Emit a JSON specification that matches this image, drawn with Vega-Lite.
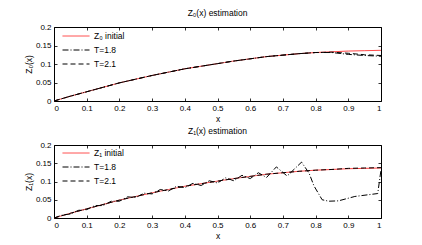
{
  "$schema": "https://vega.github.io/schema/vega-lite/v6.json",
  "padding": {"left": 23, "top": 8, "right": 5, "bottom": 5},
  "spacing": 3,
  "config": {
    "font": "Liberation Sans",
    "view": {"stroke": "black", "strokeWidth": 1},
    "axis": {
      "domain": false, "grid": false, "tickColor": "black", "tickSize": -3, "tickWidth": 0.8,
      "labelFontSize": 8, "labelColor": "black", "labelPadding": 6,
      "titleFontSize": 8.5, "titleFontWeight": "normal", "titleColor": "black", "titlePadding": 2
    },
    "axisX": {"titlePadding": 2},
    "title": {"fontSize": 8.5, "fontWeight": "normal", "color": "black", "offset": 6},
    "legend": {
      "symbolType": "M-1,0H5", "symbolSize": 81,
      "symbolStrokeWidth": 1, "labelFontSize": 8.5, "labelColor": "black", "rowPadding": 4,
      "padding": 0, "labelOffset": 22
    }
  },
  "datasets": {
    "top": [
      {"x":0,"y":0,"s":"Z₀ initial"},{"x":0.05,"y":0.013,"s":"Z₀ initial"},{"x":0.1,"y":0.025,"s":"Z₀ initial"},{"x":0.15,"y":0.037,"s":"Z₀ initial"},{"x":0.2,"y":0.049,"s":"Z₀ initial"},{"x":0.25,"y":0.059,"s":"Z₀ initial"},{"x":0.3,"y":0.069,"s":"Z₀ initial"},{"x":0.35,"y":0.078,"s":"Z₀ initial"},{"x":0.4,"y":0.087,"s":"Z₀ initial"},{"x":0.45,"y":0.094,"s":"Z₀ initial"},{"x":0.5,"y":0.101,"s":"Z₀ initial"},{"x":0.55,"y":0.108,"s":"Z₀ initial"},{"x":0.6,"y":0.114,"s":"Z₀ initial"},{"x":0.65,"y":0.12,"s":"Z₀ initial"},{"x":0.7,"y":0.124,"s":"Z₀ initial"},{"x":0.75,"y":0.128,"s":"Z₀ initial"},{"x":0.8,"y":0.131,"s":"Z₀ initial"},{"x":0.85,"y":0.133,"s":"Z₀ initial"},{"x":0.9,"y":0.135,"s":"Z₀ initial"},{"x":0.95,"y":0.136,"s":"Z₀ initial"},{"x":1,"y":0.137,"s":"Z₀ initial"},
      {"x":0,"y":0,"s":"T=1.8"},{"x":0.05,"y":0.013,"s":"T=1.8"},{"x":0.1,"y":0.025,"s":"T=1.8"},{"x":0.15,"y":0.037,"s":"T=1.8"},{"x":0.2,"y":0.049,"s":"T=1.8"},{"x":0.25,"y":0.059,"s":"T=1.8"},{"x":0.3,"y":0.069,"s":"T=1.8"},{"x":0.35,"y":0.078,"s":"T=1.8"},{"x":0.4,"y":0.087,"s":"T=1.8"},{"x":0.45,"y":0.094,"s":"T=1.8"},{"x":0.5,"y":0.101,"s":"T=1.8"},{"x":0.55,"y":0.108,"s":"T=1.8"},{"x":0.6,"y":0.114,"s":"T=1.8"},{"x":0.65,"y":0.12,"s":"T=1.8"},{"x":0.7,"y":0.124,"s":"T=1.8"},{"x":0.75,"y":0.128,"s":"T=1.8"},{"x":0.8,"y":0.131,"s":"T=1.8"},{"x":0.85,"y":0.131,"s":"T=1.8"},{"x":0.9,"y":0.126,"s":"T=1.8"},{"x":0.95,"y":0.123,"s":"T=1.8"},{"x":1,"y":0.121,"s":"T=1.8"},
      {"x":0,"y":0,"s":"T=2.1"},{"x":0.05,"y":0.013,"s":"T=2.1"},{"x":0.1,"y":0.025,"s":"T=2.1"},{"x":0.15,"y":0.037,"s":"T=2.1"},{"x":0.2,"y":0.049,"s":"T=2.1"},{"x":0.25,"y":0.059,"s":"T=2.1"},{"x":0.3,"y":0.069,"s":"T=2.1"},{"x":0.35,"y":0.078,"s":"T=2.1"},{"x":0.4,"y":0.087,"s":"T=2.1"},{"x":0.45,"y":0.094,"s":"T=2.1"},{"x":0.5,"y":0.101,"s":"T=2.1"},{"x":0.55,"y":0.108,"s":"T=2.1"},{"x":0.6,"y":0.114,"s":"T=2.1"},{"x":0.65,"y":0.12,"s":"T=2.1"},{"x":0.7,"y":0.124,"s":"T=2.1"},{"x":0.75,"y":0.128,"s":"T=2.1"},{"x":0.8,"y":0.131,"s":"T=2.1"},{"x":0.85,"y":0.132,"s":"T=2.1"},{"x":0.9,"y":0.129,"s":"T=2.1"},{"x":0.95,"y":0.125,"s":"T=2.1"},{"x":1,"y":0.123,"s":"T=2.1"}
    ],
    "bottom": [
      {"x":0,"y":0,"s":"Z₁ initial"},{"x":0.05,"y":0.013,"s":"Z₁ initial"},{"x":0.1,"y":0.025,"s":"Z₁ initial"},{"x":0.15,"y":0.037,"s":"Z₁ initial"},{"x":0.2,"y":0.049,"s":"Z₁ initial"},{"x":0.25,"y":0.059,"s":"Z₁ initial"},{"x":0.3,"y":0.069,"s":"Z₁ initial"},{"x":0.35,"y":0.078,"s":"Z₁ initial"},{"x":0.4,"y":0.087,"s":"Z₁ initial"},{"x":0.45,"y":0.094,"s":"Z₁ initial"},{"x":0.5,"y":0.101,"s":"Z₁ initial"},{"x":0.55,"y":0.108,"s":"Z₁ initial"},{"x":0.6,"y":0.114,"s":"Z₁ initial"},{"x":0.65,"y":0.12,"s":"Z₁ initial"},{"x":0.7,"y":0.124,"s":"Z₁ initial"},{"x":0.75,"y":0.128,"s":"Z₁ initial"},{"x":0.8,"y":0.131,"s":"Z₁ initial"},{"x":0.85,"y":0.133,"s":"Z₁ initial"},{"x":0.9,"y":0.135,"s":"Z₁ initial"},{"x":0.95,"y":0.136,"s":"Z₁ initial"},{"x":1,"y":0.137,"s":"Z₁ initial"},
      {"x":0,"y":0,"s":"T=1.8"},{"x":0.025,"y":0.008,"s":"T=1.8"},{"x":0.05,"y":0.011,"s":"T=1.8"},{"x":0.075,"y":0.021,"s":"T=1.8"},{"x":0.1,"y":0.023,"s":"T=1.8"},{"x":0.125,"y":0.034,"s":"T=1.8"},{"x":0.15,"y":0.034,"s":"T=1.8"},{"x":0.175,"y":0.046,"s":"T=1.8"},{"x":0.2,"y":0.046,"s":"T=1.8"},{"x":0.225,"y":0.058,"s":"T=1.8"},{"x":0.25,"y":0.056,"s":"T=1.8"},{"x":0.275,"y":0.068,"s":"T=1.8"},{"x":0.3,"y":0.066,"s":"T=1.8"},{"x":0.325,"y":0.078,"s":"T=1.8"},{"x":0.35,"y":0.074,"s":"T=1.8"},{"x":0.375,"y":0.087,"s":"T=1.8"},{"x":0.4,"y":0.083,"s":"T=1.8"},{"x":0.425,"y":0.095,"s":"T=1.8"},{"x":0.45,"y":0.089,"s":"T=1.8"},{"x":0.475,"y":0.102,"s":"T=1.8"},{"x":0.5,"y":0.096,"s":"T=1.8"},{"x":0.525,"y":0.11,"s":"T=1.8"},{"x":0.55,"y":0.102,"s":"T=1.8"},{"x":0.575,"y":0.117,"s":"T=1.8"},{"x":0.6,"y":0.108,"s":"T=1.8"},{"x":0.625,"y":0.124,"s":"T=1.8"},{"x":0.65,"y":0.111,"s":"T=1.8"},{"x":0.68,"y":0.14,"s":"T=1.8"},{"x":0.713,"y":0.115,"s":"T=1.8"},{"x":0.757,"y":0.153,"s":"T=1.8"},{"x":0.78,"y":0.123,"s":"T=1.8"},{"x":0.795,"y":0.088,"s":"T=1.8"},{"x":0.82,"y":0.05,"s":"T=1.8"},{"x":0.84,"y":0.046,"s":"T=1.8"},{"x":0.87,"y":0.047,"s":"T=1.8"},{"x":0.92,"y":0.059,"s":"T=1.8"},{"x":0.99,"y":0.067,"s":"T=1.8"},{"x":1,"y":0.132,"s":"T=1.8"},
      {"x":0,"y":0,"s":"T=2.1"},{"x":0.05,"y":0.013,"s":"T=2.1"},{"x":0.1,"y":0.025,"s":"T=2.1"},{"x":0.15,"y":0.037,"s":"T=2.1"},{"x":0.2,"y":0.049,"s":"T=2.1"},{"x":0.25,"y":0.059,"s":"T=2.1"},{"x":0.3,"y":0.069,"s":"T=2.1"},{"x":0.35,"y":0.078,"s":"T=2.1"},{"x":0.4,"y":0.087,"s":"T=2.1"},{"x":0.45,"y":0.094,"s":"T=2.1"},{"x":0.5,"y":0.101,"s":"T=2.1"},{"x":0.55,"y":0.108,"s":"T=2.1"},{"x":0.6,"y":0.114,"s":"T=2.1"},{"x":0.65,"y":0.12,"s":"T=2.1"},{"x":0.7,"y":0.124,"s":"T=2.1"},{"x":0.75,"y":0.128,"s":"T=2.1"},{"x":0.8,"y":0.131,"s":"T=2.1"},{"x":0.85,"y":0.133,"s":"T=2.1"},{"x":0.9,"y":0.136,"s":"T=2.1"},{"x":0.95,"y":0.137,"s":"T=2.1"},{"x":1,"y":0.138,"s":"T=2.1"}
    ]
  },
  "vconcat": [
    {
      "width": 327, "height": 74,
      "title": {"text": "Z₀(x) estimation"},
      "data": {"name": "top"},
      "layer": [
        {
          "mark": {"type": "line", "strokeWidth": 1},
          "encoding": {
            "x": {"field": "x", "type": "quantitative", "scale": {"domain": [0, 1], "nice": false}, "axis": {"title": "x", "values": [0,0.1,0.2,0.3,0.4,0.5,0.6,0.7,0.8,0.9,1], "format": "~g"}},
            "y": {"field": "y", "type": "quantitative", "scale": {"domain": [0, 0.2], "nice": false}, "axis": {"title": "Z₀(x)", "values": [0,0.05,0.1,0.15,0.2], "format": "~g"}},
            "color": {"field": "s", "type": "nominal", "sort": ["Z₀ initial", "T=1.8", "T=2.1"], "scale": {"domain": ["Z₀ initial", "T=1.8", "T=2.1"], "range": ["#ff3b3b", "black", "black"]}, "legend": {"title": null, "orient": "none", "legendX": 8, "legendY": 4}},
            "strokeDash": {"field": "s", "type": "nominal", "sort": ["Z₀ initial", "T=1.8", "T=2.1"], "scale": {"domain": ["Z₀ initial", "T=1.8", "T=2.1"], "range": [[1, 0], [6, 2, 1, 2], [5, 3]]}, "legend": {"title": null, "orient": "none", "legendX": 8, "legendY": 4}},
            "strokeWidth": {"value": 1}
          }
        },
        {
          "mark": {"type": "point", "opacity": 0},
          "encoding": {
            "x": {"field": "x", "type": "quantitative", "scale": {"domain": [0, 1], "nice": false}, "axis": {"orient": "top", "title": null, "labels": false, "values": [0,0.1,0.2,0.3,0.4,0.5,0.6,0.7,0.8,0.9,1]}},
            "y": {"field": "y", "type": "quantitative", "scale": {"domain": [0, 0.2], "nice": false}, "axis": {"orient": "right", "title": null, "labels": false, "values": [0,0.05,0.1,0.15,0.2]}}
          }
        }
      ],
      "resolve": {"axis": {"x": "independent", "y": "independent"}}
    },
    {
      "width": 327, "height": 73,
      "title": {"text": "Z₁(x) estimation"},
      "data": {"name": "bottom"},
      "layer": [
        {
          "mark": {"type": "line", "strokeWidth": 1},
          "encoding": {
            "x": {"field": "x", "type": "quantitative", "scale": {"domain": [0, 1], "nice": false}, "axis": {"title": "x", "values": [0,0.1,0.2,0.3,0.4,0.5,0.6,0.7,0.8,0.9,1], "format": "~g"}},
            "y": {"field": "y", "type": "quantitative", "scale": {"domain": [0, 0.2], "nice": false}, "axis": {"title": "Z₁(x)", "values": [0,0.05,0.1,0.15,0.2], "format": "~g"}},
            "color": {"field": "s", "type": "nominal", "sort": ["Z₁ initial", "T=1.8", "T=2.1"], "scale": {"domain": ["Z₁ initial", "T=1.8", "T=2.1"], "range": ["#ff3b3b", "black", "black"]}, "legend": {"title": null, "orient": "none", "legendX": 8, "legendY": 3}},
            "strokeDash": {"field": "s", "type": "nominal", "sort": ["Z₁ initial", "T=1.8", "T=2.1"], "scale": {"domain": ["Z₁ initial", "T=1.8", "T=2.1"], "range": [[1, 0], [6, 2, 1, 2], [5, 3]]}, "legend": {"title": null, "orient": "none", "legendX": 8, "legendY": 3}},
            "strokeWidth": {"value": 1}
          }
        },
        {
          "mark": {"type": "point", "opacity": 0},
          "encoding": {
            "x": {"field": "x", "type": "quantitative", "scale": {"domain": [0, 1], "nice": false}, "axis": {"orient": "top", "title": null, "labels": false, "values": [0,0.1,0.2,0.3,0.4,0.5,0.6,0.7,0.8,0.9,1]}},
            "y": {"field": "y", "type": "quantitative", "scale": {"domain": [0, 0.2], "nice": false}, "axis": {"orient": "right", "title": null, "labels": false, "values": [0,0.05,0.1,0.15,0.2]}}
          }
        }
      ],
      "resolve": {"axis": {"x": "independent", "y": "independent"}}
    }
  ],
  "resolve": {"scale": {"color": "independent", "strokeDash": "independent"}}
}
